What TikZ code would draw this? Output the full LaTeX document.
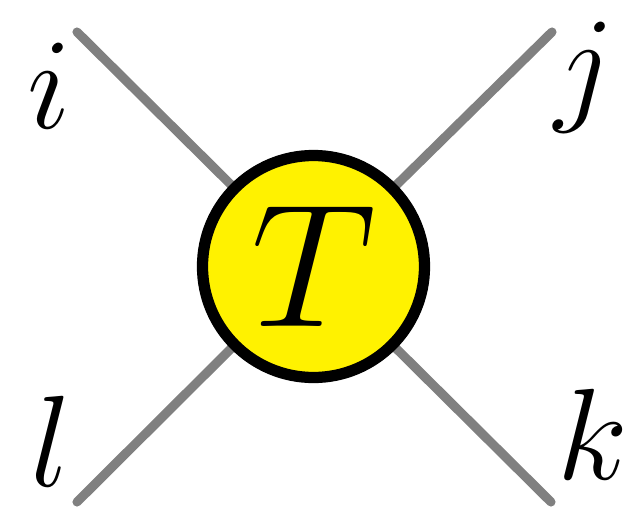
\RequirePackage{fix-cm}
\documentclass[tikz,border=0pt]{standalone}
\usetikzlibrary{backgrounds}

\begin{document}
\begin{tikzpicture}[
    leg/.style={gray, line width=2.6pt, line cap=round},
    tensor/.style={circle, draw=black, line width=3.2pt, fill=yellow, minimum size=2.22cm, inner sep=0pt, font=\fontsize{50}{60}\selectfont},
    idx/.style={inner sep=0pt, font=\fontsize{37}{44}\selectfont}]
    \useasboundingbox (0,0) rectangle (6.31,5.07);

    % Tensor
    \node[tensor] (T) at (3.135,2.405) {$T$};

    % Free ends of the legs
    \coordinate (ei) at (0.77,4.75);
    \coordinate (ej) at (5.52,4.75);
    \coordinate (ek) at (5.51,0.05);
    \coordinate (el) at (0.77,0.05);

    % Legs
    \begin{scope}[on background layer]
        \foreach \e in {ei,ej,ek,el} {
            \draw[leg] (\e) -- (T.center);
        }
    \end{scope}

    % Index labels
    \node[idx] (li) at (0.49,4.215) {$i$};
    \node[idx] (lj) at (5.85,4.29) {$j$};
    \node[idx] (lk) at (5.93,0.73) {$k$};
    \node[idx] (ll) at (0.51,0.66) {$l$};
\end{tikzpicture}
\end{document}
